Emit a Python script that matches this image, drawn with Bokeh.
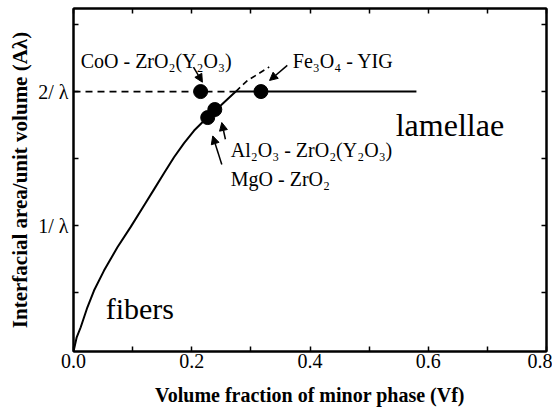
from bokeh.plotting import figure
from bokeh.models import (LinearAxis, FixedTicker, CustomJSTickFormatter, Label,
                          Arrow, NormalHead, Range1d)
from bokeh.embed import file_html
from bokeh.resources import INLINE

# ---------------- data ----------------
fiber_vf = [0.0, 0.0054, 0.0122, 0.0235, 0.0347, 0.0516, 0.0743, 0.0968, 0.1193,
            0.1362, 0.153, 0.170, 0.187, 0.204, 0.2266, 0.249, 0.2744]
fiber_area = [0.06, 0.166, 0.241, 0.39, 0.515, 0.664, 0.838, 0.99, 1.15,
              1.27, 1.39, 1.51, 1.615, 1.709, 1.808, 1.896, 2.0]
fiber_ext_vf = [0.2744, 0.294, 0.331]
fiber_ext_area = [2.0, 2.082, 2.183]
lam_dash_vf = [0.0, 0.2744]
lam_solid_vf = [0.2744, 0.58]
lam_area = [2.0, 2.0]

point_names = ["CoO - ZrO₂(Y₂O₃)", "Fe₃O₄ - YIG", "Al₂O₃ - ZrO₂(Y₂O₃)", "MgO - ZrO₂"]
point_vf = [0.215, 0.317, 0.239, 0.227]
point_area = [2.0, 2.0, 1.866, 1.806]

x_ticks = [0.0, 0.1, 0.2, 0.3, 0.4, 0.5, 0.6, 0.7, 0.8]
x_tick_labels = ["0.0", "", "0.2", "", "0.4", "", "0.6", "", "0.8"]
y_ticks = [0.5, 1.0, 1.5, 2.0, 2.5]
y_tick_labels = ["", "1/ λ", "", "2/ λ", ""]

FONT = "Liberation Serif, Times New Roman, serif"

p = figure(width=552, height=410, x_range=Range1d(0, 0.8), y_range=Range1d(0.06, 2.62),
           output_backend="svg", toolbar_location=None,
           min_border_left=73, min_border_right=6, min_border_top=8, min_border_bottom=59)
p.grid.visible = False
p.outline_line_color = "black"
p.outline_line_width = 2
p.background_fill_color = "white"
p.border_fill_color = "white"

lookup_code = """
const i = tv.findIndex(t => Math.abs(t - tick) < 1e-6);
return i >= 0 ? tl[i] : "";
"""
xfmt = CustomJSTickFormatter(args=dict(tv=x_ticks, tl=x_tick_labels), code=lookup_code)
yfmt = CustomJSTickFormatter(args=dict(tv=y_ticks, tl=y_tick_labels), code=lookup_code)
blank = CustomJSTickFormatter(code="return '';")

def style(ax):
    ax.axis_line_color = "black"
    ax.axis_line_width = 2
    ax.major_tick_line_color = "black"
    ax.major_tick_line_width = 1.5
    ax.major_tick_in = 5
    ax.major_tick_out = 0
    ax.minor_tick_line_color = None
    ax.major_label_text_font = FONT
    ax.major_label_text_font_size = "20px"
    ax.major_label_text_color = "black"
    ax.axis_label_text_font = FONT
    ax.axis_label_text_font_size = "21px"
    ax.axis_label_text_font_style = "bold"
    ax.axis_label_text_color = "black"

xa = p.xaxis[0]
xa.ticker = FixedTicker(ticks=x_ticks)
xa.formatter = xfmt
style(xa)
xa.major_label_standoff = 2
xa.axis_label = "Volume fraction of minor phase (Vf)"
xa.axis_label_text_font_size = "20px"
xa.axis_label_standoff = 13

ya = p.yaxis[0]
ya.ticker = FixedTicker(ticks=y_ticks)
ya.formatter = yfmt
style(ya)
ya.major_label_standoff = 5
ya.axis_label = "Interfacial area/unit volume (Aλ)"
ya.axis_label_standoff = 3

top = LinearAxis(ticker=FixedTicker(ticks=x_ticks), formatter=blank)
style(top)
top.major_label_text_font_size = "1px"
top.major_label_standoff = 0
p.add_layout(top, "above")

right = LinearAxis(ticker=FixedTicker(ticks=y_ticks), formatter=blank)
style(right)
right.major_label_text_font_size = "1px"
right.major_label_standoff = 0
p.add_layout(right, "right")

# curves
p.line(fiber_vf, fiber_area, line_color="black", line_width=2)
p.line(fiber_ext_vf, fiber_ext_area, line_color="black", line_width=1.6, line_dash="6 4")
p.line(lam_dash_vf, lam_area, line_color="black", line_width=1.8, line_dash="7 5")
p.line(lam_solid_vf, lam_area, line_color="black", line_width=2)
p.scatter(point_vf, point_area, size=14, fill_color="black", line_color="black")

# arrows (tail -> head)
arrows = [
    ((0.2029, 2.183), (0.218, 2.07)),
    ((0.3616, 2.195), (0.3316, 2.083)),
    ((0.2569, 1.644), (0.2508, 1.769)),
    ((0.2508, 1.456), (0.2355, 1.669)),
]
for (xs, ys), (xe, ye) in arrows:
    p.add_layout(Arrow(x_start=xs, y_start=ys, x_end=xe, y_end=ye, line_width=1.5,
                       line_color="black",
                       end=NormalHead(size=8, fill_color="black", line_color="black", line_width=1)))

# point annotations
ann_pos = [(0.0122, 2.231), (0.371, 2.231), (0.266, 1.567), (0.266, 1.351)]
for name, (lx, ly) in zip(point_names, ann_pos):
    p.add_layout(Label(x=lx, y=ly, text=name, text_font=FONT, text_font_size="20px",
                       text_baseline="alphabetic", text_align="left", text_color="black"))

p.add_layout(Label(x=0.545, y=1.754, text="lamellae", text_font=FONT, text_font_size="32px",
                   text_baseline="alphabetic", text_color="black"))
p.add_layout(Label(x=0.0545, y=0.381, text="fibers", text_font=FONT, text_font_size="30px",
                   text_baseline="alphabetic", text_color="black"))

open("out.html", "w").write(file_html(p, INLINE))
